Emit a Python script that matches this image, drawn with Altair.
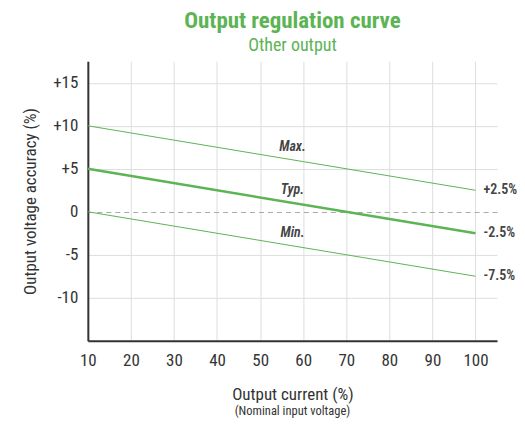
import altair as alt
import pandas as pd

# ---- data ----
x_vals = [10, 100]
max_vals = [10, 2.5]
typ_vals = [5, -2.5]
min_vals = [0, -7.5]
series_names = ["Max.", "Typ.", "Min."]
end_labels = ["+2.5%", "-2.5%", "-7.5%"]
name_label_x = [57.5, 57.5, 57.5]
name_label_y = [7.5, 2.5, -2.5]
x_ticks = [10, 20, 30, 40, 50, 60, 70, 80, 90, 100]
y_ticks = [-10, -5, 0, 5, 10, 15]

GREEN = "#5cb455"
FONT = "Roboto Condensed, Noto Sans Condensed, Open Sans Condensed, Roboto"
TEXT = "#333333"

rows = []
for name, vals in zip(series_names, [max_vals, typ_vals, min_vals]):
    for x, y in zip(x_vals, vals):
        rows.append({"current": x, "accuracy": y, "series": name})
df = pd.DataFrame(rows)

names_df = pd.DataFrame({"current": name_label_x, "accuracy": name_label_y, "label": series_names})
ends_df = pd.DataFrame({
    "current": [x_vals[-1]] * 3,
    "accuracy": [max_vals[-1], typ_vals[-1], min_vals[-1]],
    "label": end_labels,
})

W, H = 410, 280
xscale = alt.Scale(domain=[10, 105], nice=False, zero=False)
yscale = alt.Scale(domain=[-15, 17.5], nice=False, zero=False)

xaxis = alt.Axis(
    values=x_ticks, grid=True, gridColor="#dddddd", ticks=False, labelFlush=False,
    domainColor=TEXT, domainWidth=2, labelFontSize=17, labelColor=TEXT,
    labelPadding=12, labelFont=FONT, title="Output current (%)", titleFont=FONT,
    titleFontSize=17, titleFontWeight="normal", titleColor=TEXT, titlePadding=18,
)
yaxis = alt.Axis(
    values=y_ticks, grid=True,
    gridColor=alt.condition(alt.datum.value == 0, alt.value("#aaaaaa"), alt.value("#dddddd")),
    gridDash=alt.condition(alt.datum.value == 0, alt.value([5, 4]), alt.value([])),
    ticks=False, domainColor=TEXT, domainWidth=2, labelFontSize=17, labelColor=TEXT,
    labelPadding=10, labelFont=FONT, labelFlush=False,
    labelExpr="datum.value > 0 ? '+' + datum.value : '' + datum.value",
    title="Output voltage accuracy (%)", titleFont=FONT, titleFontSize=17,
    titleFontWeight="normal", titleColor=TEXT, titlePadding=13,
)

thin = alt.Chart(df).transform_filter(alt.datum.series != "Typ.").mark_line(
    color=GREEN, strokeWidth=1
).encode(
    x=alt.X("current:Q", scale=xscale, axis=xaxis),
    y=alt.Y("accuracy:Q", scale=yscale, axis=yaxis),
    detail="series:N",
)
typ = alt.Chart(df).transform_filter(alt.datum.series == "Typ.").mark_line(
    color=GREEN, strokeWidth=2.5
).encode(
    x=alt.X("current:Q", scale=xscale),
    y=alt.Y("accuracy:Q", scale=yscale),
)

names = alt.Chart(names_df).mark_text(
    font=FONT, fontSize=14, fontWeight=600, fontStyle="italic", color="#444444"
).encode(
    x=alt.X("current:Q", scale=xscale), y=alt.Y("accuracy:Q", scale=yscale), text="label:N"
)

ends = alt.Chart(ends_df).mark_text(
    font=FONT, fontSize=14, fontWeight=600, color="#444444", align="left", dx=8
).encode(
    x=alt.X("current:Q", scale=xscale), y=alt.Y("accuracy:Q", scale=yscale), text="label:N"
)

sub = alt.Chart(pd.DataFrame({"t": ["(Nominal input voltage)"]})).mark_text(
    font=FONT, fontSize=12.5, color=TEXT
).encode(x=alt.value(W / 2), y=alt.value(H + 70), text="t:N")

chart = alt.layer(thin, typ, names, ends, sub).properties(
    width=W, height=H,
    autosize=alt.AutoSizeParams(type="none"),
    title=alt.TitleParams(
        text="Output regulation curve", subtitle="Other output", anchor="middle",
        font=FONT, fontSize=23, fontWeight="bold", color=GREEN,
        subtitleFont=FONT, subtitleFontSize=18, subtitleColor=GREEN,
        subtitlePadding=4, offset=6,
    ),
    padding={"left": 80, "top": 53, "right": 20, "bottom": 77},
).configure_view(stroke=None)

chart.save("out.html", embed_options={"renderer": "svg", "actions": False})
